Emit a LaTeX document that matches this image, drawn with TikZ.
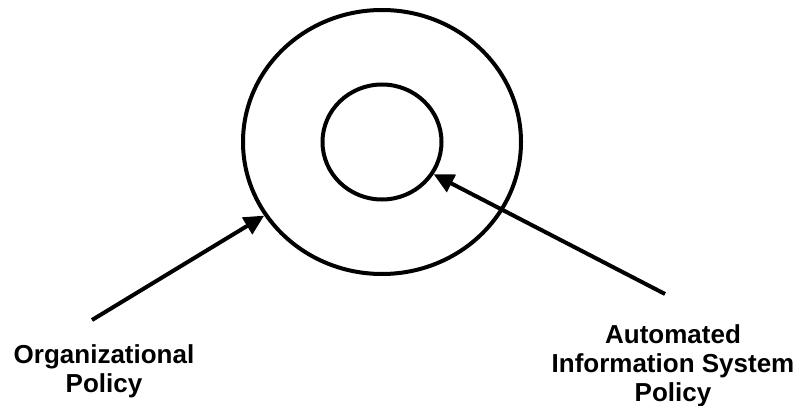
\documentclass[tikz,border=0pt]{standalone}
\usepackage{fontspec}
\setmainfont{Liberation Sans}
\usetikzlibrary{shapes.geometric,arrows.meta}
\begin{document}
\begin{tikzpicture}[x=1pt,y=-1pt,
  ring/.style={draw=black,line width=4pt,ellipse,inner sep=0pt},
  pointer/.style={draw=black,line width=4pt,-{Triangle[length=20pt,width=19pt]}},
  label/.style={font=\bfseries\fontsize{26}{29}\selectfont,align=center,inner sep=0pt,anchor=north}]
\useasboundingbox (0,0) rectangle (803,406);
\node[ring,minimum width=278pt,minimum height=264pt] (outer) at (382,142) {};
\node[ring,minimum width=119pt,minimum height=115pt] (inner) at (382,142) {};
\coordinate (s1) at (92,320);
\coordinate (s2) at (665,294);
\draw[pointer] (s1) -- (outer.212);
\draw[pointer] (s2) -- (inner.328);
\node[label] (org) at (104,344) {Organizational\\Policy};
\node[label] (ais) at (673,324) {Automated\\Information System\\Policy};
\end{tikzpicture}
\end{document}
